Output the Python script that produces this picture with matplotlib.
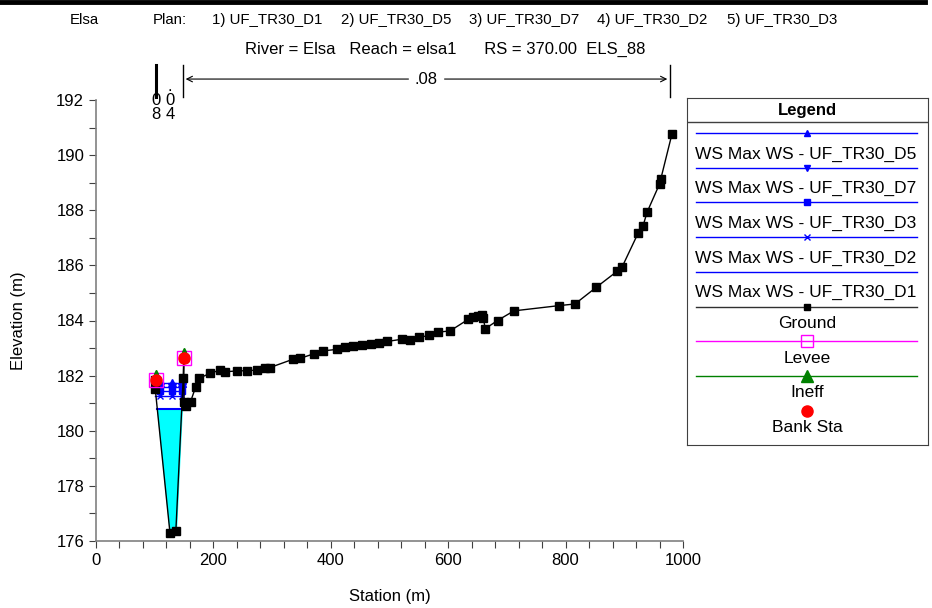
import numpy as np
import matplotlib
matplotlib.use('Agg')
import matplotlib.pyplot as plt
from matplotlib.lines import Line2D

plt.rcParams['font.family'] = ['Liberation Sans', 'DejaVu Sans']

# ground profile (station m, elevation m)
ground_sta = [100, 101, 126, 136, 148.5, 149.5, 150, 154, 161, 170, 175, 194, 211, 220, 240,
              257, 275, 288, 296, 335, 348, 371, 387, 410, 424, 438, 453, 468, 482,
              496, 521, 535, 551, 568, 583, 603, 634, 643, 651, 657, 660, 663, 684,
              712, 789, 816, 852, 888, 896, 924, 932, 939, 960, 962, 981]
ground_elev = [181.85, 181.5, 176.3, 176.35, 181.9, 182.65, 181.05, 180.9, 181.05, 181.6,
               181.9, 182.08, 182.2, 182.14, 182.17, 182.18, 182.2, 182.27, 182.29,
               182.59, 182.63, 182.79, 182.9, 182.95, 183.03, 183.06, 183.1, 183.14,
               183.18, 183.24, 183.32, 183.3, 183.39, 183.46, 183.58, 183.62, 184.04,
               184.12, 184.16, 184.2, 184.08, 183.7, 184.0, 184.35, 184.54, 184.6,
               185.2, 185.79, 185.93, 187.19, 187.44, 187.94, 188.95, 189.12, 190.75]

# water surfaces per plan
ws_sta = [101, 109, 129, 147, 148.5]
ws_d5 = 181.75
ws_d7 = 181.6
ws_d3 = 181.45
ws_d2 = 181.25
ws_d1 = 180.8

bank_sta = [103, 149.5]
bank_elev = [181.85, 182.65]

n_breaks = [102, 148, 978]
n_labels = ['.\n0\n8', '.\n0\n4', '.08']
n_text_sta = [102, 126]

plan_parts = ['Elsa', 'Plan:', '1) UF_TR30_D1', '2) UF_TR30_D5', '3) UF_TR30_D7',
              '4) UF_TR30_D2', '5) UF_TR30_D3']
plan_x = [70, 153, 212, 341, 469, 597, 727]

fig = plt.figure(figsize=(9.32, 6.08), dpi=100)
W, H = 932.0, 608.0
ax = fig.add_axes([96 / W, 67 / H, 587 / W, 441 / H])

gs = np.array(ground_sta)
ge = np.array(ground_elev)

# D1 filled water
ax.fill_between(gs, ge, ws_d1, where=ge < ws_d1, interpolate=True,
                color='cyan', zorder=1)
x_left = gs[1] + (ge[1] - ws_d1) / (ge[1] - ge[2]) * (gs[2] - gs[1])
x_right = gs[3] + (ws_d1 - ge[3]) / (ge[4] - ge[3]) * (gs[4] - gs[3])
ax.plot([x_left, x_right], [ws_d1, ws_d1], color='blue', lw=1.5, zorder=2)

ax.plot(ws_sta, [ws_d5] * len(ws_sta), color='blue', lw=1, marker='^', ms=6,
        markevery=[1, 2, 3], zorder=3)
ax.plot(ws_sta, [ws_d7] * len(ws_sta), color='blue', lw=1, marker='v', ms=6,
        markevery=[1, 2, 3], zorder=3)
ax.plot(ws_sta, [ws_d3] * len(ws_sta), color='blue', lw=1, marker='s', ms=5,
        markevery=[1, 2, 3], zorder=3)
ax.plot(ws_sta, [ws_d2] * len(ws_sta), color='blue', lw=1, marker='x', ms=5,
        markevery=[1, 2, 3], zorder=3)

ax.plot(gs, ge, color='black', lw=1, marker='s', ms=5.5, zorder=4)

ax.plot(bank_sta, bank_elev, ls='none', marker='s', ms=10, mfc='none',
        mec='magenta', zorder=5)
ax.plot(bank_sta, [e + 0.28 for e in bank_elev], ls='none', marker='^', ms=3,
        color='green', zorder=5)
ax.plot(bank_sta, bank_elev, ls='none', marker='o', ms=8, color='red', zorder=6)

ax.set_xlim(0, 1000)
ax.set_ylim(176, 192)
ax.set_xticks(range(0, 1001, 200))
ax.set_xticks(range(0, 1001, 40), minor=True)
ax.set_yticks(range(176, 193, 2))
ax.set_yticks(range(176, 193, 1), minor=True)
ax.tick_params(which='both', length=5, width=0.8, labelsize=12, color='#404040')
for s in ['top', 'right']:
    ax.spines[s].set_visible(False)
for s in ['left', 'bottom']:
    ax.spines[s].set_color('#808080')
    ax.spines[s].set_linewidth(1.2)
ax.set_xlabel('Station (m)', fontsize=12, labelpad=15)
ax.set_ylabel('Elevation (m)', fontsize=12, labelpad=22)

# Manning's n markers above the plot
for i, s in enumerate(n_breaks):
    ax.plot([s, s], [192.1, 193.27], color='black', lw=2.2 if i == 0 else 1,
            clip_on=False)
ax.annotate('', xy=(n_breaks[1], 192.76), xytext=(n_breaks[2], 192.76),
            arrowprops=dict(arrowstyle='<->', lw=0.8, color='black'),
            annotation_clip=False)
mid = (n_breaks[1] + n_breaks[2]) / 2
ax.text(mid, 192.76, n_labels[2], ha='center', va='center', fontsize=12,
        backgroundcolor='white', clip_on=False)
for s, lab in zip(n_text_sta, n_labels[:2]):
    ax.text(s, 192.75, lab, ha='center', va='top', fontsize=12,
            linespacing=0.9, clip_on=False)

# titles
fig.add_artist(Line2D([0, 925 / W], [1 - 2 / H, 1 - 2 / H], color='black', lw=3.5))
for px, part in zip(plan_x, plan_parts):
    fig.text(px / W, 1 - 20 / H, part, ha='left', va='center', fontsize=10.8)
fig.text(445 / W, 1 - 49 / H,
         'River = Elsa   Reach = elsa1      RS = 370.00  ELS_88',
         ha='center', va='center', fontsize=12)

# legend box
lg = fig.add_axes([687 / W, 1 - 445 / H, 241 / W, 347 / H])
lg.set_xlim(687, 928)
lg.set_ylim(445, 98)
lg.set_xticks([])
lg.set_yticks([])
for s in lg.spines.values():
    s.set_color('#404040')
lg.axhline(122, color='#404040', lw=1)
lg.text(807, 110, 'Legend', ha='center', va='center', fontsize=12, fontweight='bold')

entries = [
    ('WS Max WS - UF_TR30_D5', 'blue', '^', 'blue', 5),
    ('WS Max WS - UF_TR30_D7', 'blue', 'v', 'blue', 5),
    ('WS Max WS - UF_TR30_D3', 'blue', 's', 'blue', 5),
    ('WS Max WS - UF_TR30_D2', 'blue', 'x', 'blue', 5),
    ('WS Max WS - UF_TR30_D1', 'blue', None, 'blue', 5),
    ('Ground', '#303030', 's', 'black', 5),
    ('Levee', 'magenta', 's', 'none', 8),
    ('Ineff', 'green', '^', 'green', 9),
    ('Bank Sta', None, 'o', 'red', 8),
]
y = 133
for lab, lc, mk, mfc, ms in entries:
    if lc is not None:
        lg.plot([696, 917], [y, y], color=lc, lw=1)
    if mk is not None:
        mec = 'magenta' if lab == 'Levee' else mfc
        lg.plot([807], [y], marker=mk, ms=ms, mfc=mfc, mec=mec, color=mec, ls='none')
    if lab.startswith('WS'):
        lg.text(806, y + 21, lab, ha='center', va='center', fontsize=12.5)
    else:
        lg.text(807, y + 17, lab, ha='center', va='center', fontsize=12.5)
    y += 34.7

fig.savefig('out.png', dpi=100)
